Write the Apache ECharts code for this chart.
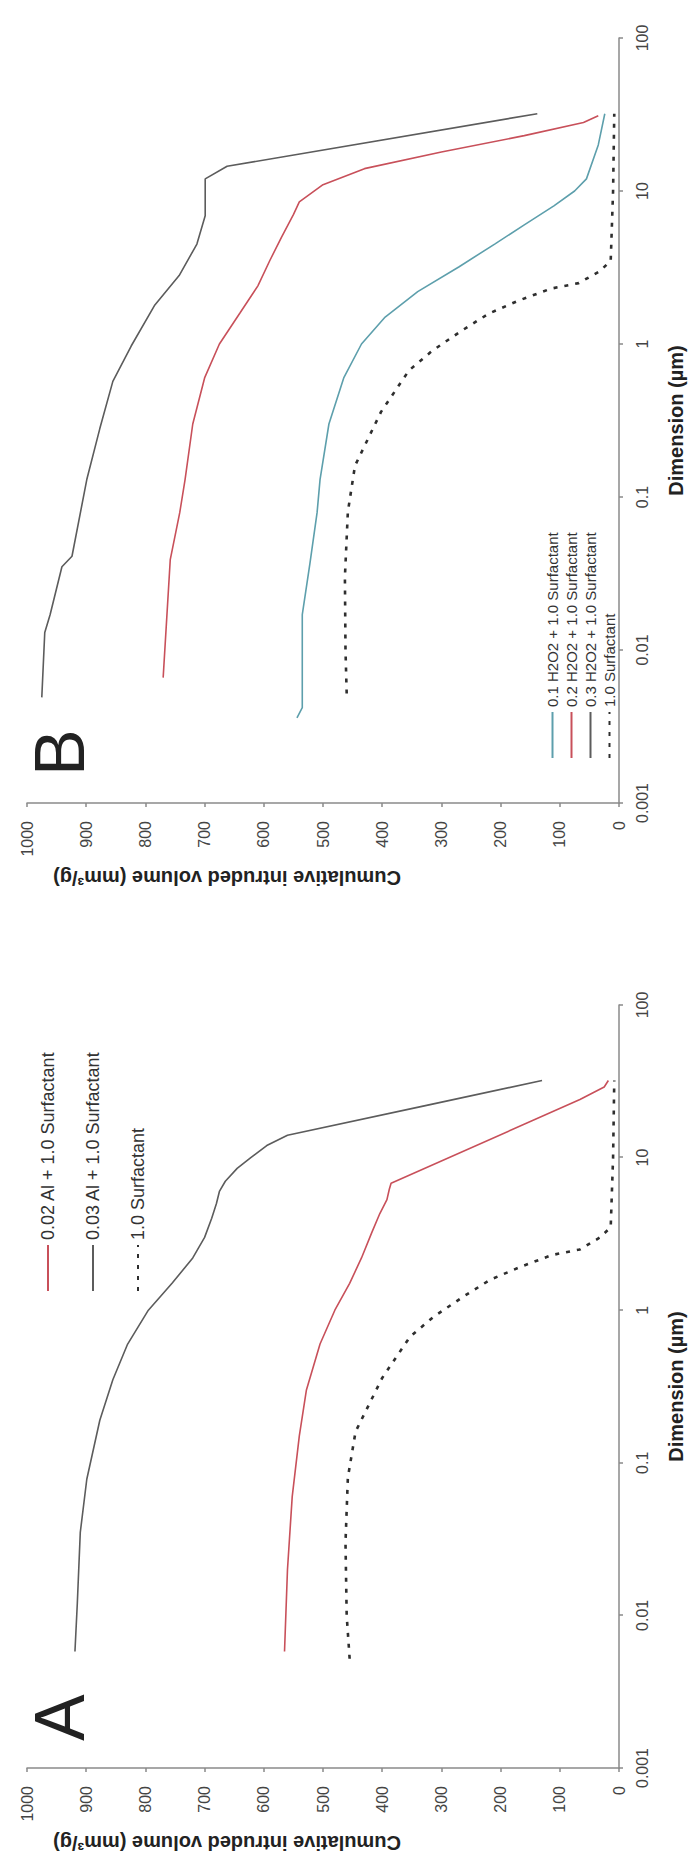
<!DOCTYPE html>
<html>
<head>
<meta charset="utf-8">
<script src="https://cdn.jsdelivr.net/npm/echarts@6/dist/echarts.min.js"></script>
<style>
  html, body { margin: 0; padding: 0; background: #fff; width: 695px; height: 1872px; overflow: hidden; }
  /* The figure is laid out landscape (1872 x 695) and turned a quarter turn counter-clockwise. */
  #stage { position: absolute; left: 0; top: 0; width: 1872px; height: 695px;
           transform-origin: 0 0; transform: translate(0, 1872px) rotate(-90deg); }
</style>
</head>
<body>
<div id="stage"></div>
<script>
// ---- axis ticks ----
const dimTicks = [0.001, 0.01, 0.1, 1, 10, 100];
const dimTickLabels = ['0.001', '0.01', '0.1', '1', '10', '100'];
const volumeMin = 0, volumeMax = 1000, volumeStep = 100;

// ---- axis titles, panel letters, legend names ----
const dimTitle = 'Dimension (µm)';
const volTitle = 'Cumulative intruded volume (mm³/g)';
const panelLetters = ['A', 'B'];
const namesA = ['0.02 Al + 1.0 Surfactant', '0.03 Al + 1.0 Surfactant', '1.0 Surfactant'];
const namesB = ['0.1 H2O2 + 1.0 Surfactant', '0.2 H2O2 + 1.0 Surfactant', '0.3 H2O2 + 1.0 Surfactant', '1.0 Surfactant'];

// ---- panel A: [dimension (µm), cumulative intruded volume (mm³/g)] ----
const aAl002 = [[0.0058,565],[0.02,560],[0.06,552],[0.15,540],[0.3,528],[0.6,505],[1.0,480],[1.5,455],[2.2,435],[3.2,418],[4.3,404],[5.3,392],[6.2,388],[6.8,385],[24,66],[29,25],[32,18]];
const aAl003 = [[0.0058,919],[0.012,915],[0.035,910],[0.078,899],[0.19,877],[0.35,855],[0.6,830],[1.0,795],[1.5,755],[2.2,720],[3.0,700],[4.0,688],[5.0,680],[6.0,675],[7.0,665],[8.5,645],[10,622],[12,595],[14,560],[22,325],[32,130]];
const aSurf = [[0.0052,455],[0.01,460],[0.03,462],[0.08,458],[0.16,445],[0.36,400],[0.67,353],[0.9,314],[1.22,264],[1.58,218],[1.92,167],[2.3,113],[2.5,66],[3.0,32],[3.5,14],[10,10],[32,8]];

// ---- panel B ----
const bH01 = [[0.0036,544],[0.0042,535],[0.017,535],[0.037,522],[0.079,510],[0.13,505],[0.3,490],[0.6,465],[1.0,435],[1.5,395],[2.2,340],[3.2,270],[4.5,210],[6,160],[8,110],[10,75],[12,55],[20,35],[32,24]];
const bH02 = [[0.0066,770],[0.039,758],[0.079,742],[0.13,733],[0.3,720],[0.6,700],[1.0,675],[1.6,640],[2.4,610],[3.5,590],[5,570],[7,550],[8.5,540],[11,500],[14,430],[18,300],[23,160],[28,60],[31,35]];
const bH03 = [[0.0049,975],[0.013,970],[0.017,961],[0.035,941],[0.041,924],[0.13,899],[0.28,877],[0.57,855],[0.97,824],[1.8,784],[2.8,743],[4.5,713],[6.9,699],[12,699],[14.5,662],[32,138]];
const bSurf = [[0.0052,460],[0.01,462],[0.03,463],[0.08,458],[0.16,446],[0.36,402],[0.67,355],[0.9,316],[1.22,266],[1.58,220],[1.92,170],[2.3,115],[2.5,68],[3.0,32],[3.5,14],[10,10],[32,8]];

const RED = '#c8505a', DARK = '#5c5c5c', TEAL = '#5d9fac', DOT = '#2e2e2e';
const FONT = '"Liberation Sans", Arial, sans-serif';

const chart = echarts.init(document.getElementById('stage'), null, { renderer: 'svg', width: 1872, height: 695 });

// plot areas in the landscape layout
const grids = [
  { left: 104, width: 763, top: 27, height: 592 },
  { left: 1069, width: 765, top: 27, height: 592 }
];

function dimLabel(v) {
  for (let i = 0; i < dimTicks.length; i++) {
    if (Math.abs(Math.log10(v) - Math.log10(dimTicks[i])) < 1e-6) return dimTickLabels[i];
  }
  return '';
}

const axisLineStyle = { color: '#8a8a8a', width: 1.5 };

function xAxisFor(gridIndex) {
  return {
    type: 'log', gridIndex, logBase: 10, min: dimTicks[0], max: dimTicks[dimTicks.length - 1],
    name: dimTitle, nameLocation: 'middle', nameGap: 47,
    nameTextStyle: { fontFamily: FONT, fontSize: 20, fontWeight: 'bold', color: '#222' },
    axisLine: { show: true, lineStyle: axisLineStyle },
    axisTick: { show: true, length: 4, lineStyle: axisLineStyle },
    minorTick: { show: false },
    splitLine: { show: false },
    axisLabel: { margin: 15, fontFamily: FONT, fontSize: 16, color: '#444', formatter: dimLabel }
  };
}
function yAxisFor(gridIndex) {
  return {
    type: 'value', gridIndex, min: volumeMin, max: volumeMax, interval: volumeStep,
    axisLine: { show: true, lineStyle: axisLineStyle },
    axisTick: { show: true, length: 4, lineStyle: axisLineStyle },
    splitLine: { show: false },
    axisLabel: { margin: 18, fontFamily: FONT, fontSize: 16, color: '#444', formatter: v => String(v) }
  };
}

function lineSeries(name, data, color, xi, dotted) {
  return {
    type: 'line', name, data, xAxisIndex: xi, yAxisIndex: xi,
    showSymbol: false, symbol: 'none', smooth: false, silent: true,
    lineStyle: dotted ? { color, width: 2.6, type: [4, 7] } : { color, width: 1.6 },
    itemStyle: { color }
  };
}

function legendFor(names, left, top, gap, size) {
  return {
    data: names, orient: 'vertical', left, top, itemGap: gap, itemWidth: 46, itemHeight: 12,
    selectedMode: false, itemStyle: { opacity: 0 },
    textStyle: { fontFamily: FONT, fontSize: size, color: '#333' }
  };
}

// rotated titles for the volume axes, placed toward the upper part of each axis
const volTitleGraphics = grids.map(g => ({
  type: 'text', x: g.left - 75, y: g.top + 200, rotation: Math.PI / 2, silent: true,
  style: { text: volTitle, font: 'bold 20px ' + FONT, fill: '#222', align: 'center', verticalAlign: 'middle' }
}));

chart.setOption({
  animation: false,
  backgroundColor: '#fff',
  title: grids.map((g, i) => ({
    text: panelLetters[i], left: g.left + 22, top: 20,
    textStyle: { fontFamily: FONT, fontSize: 70, fontWeight: 'normal', color: '#222' }
  })),
  grid: grids,
  xAxis: [xAxisFor(0), xAxisFor(1)],
  yAxis: [yAxisFor(0), yAxisFor(1)],
  legend: [legendFor(namesA, 575, 34, 27, 18), legendFor(namesB, 1108, 540, 4, 15)],
  graphic: volTitleGraphics,
  series: [
    lineSeries(namesA[0], aAl002, RED, 0, false),
    lineSeries(namesA[1], aAl003, DARK, 0, false),
    lineSeries(namesA[2], aSurf, DOT, 0, true),
    lineSeries(namesB[0], bH01, TEAL, 1, false),
    lineSeries(namesB[1], bH02, RED, 1, false),
    lineSeries(namesB[2], bH03, DARK, 1, false),
    lineSeries(namesB[3], bSurf, DOT, 1, true)
  ]
});
</script>
</body>
</html>
